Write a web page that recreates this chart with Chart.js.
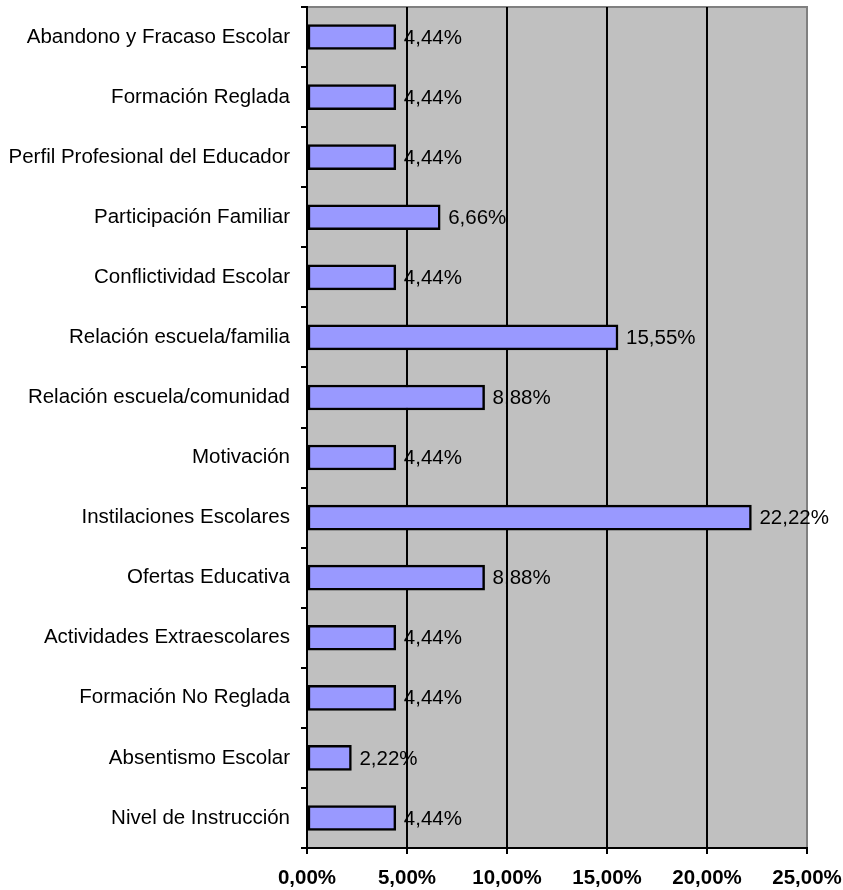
<!DOCTYPE html>
<html>
<head>
<meta charset="utf-8">
<script src="https://cdn.jsdelivr.net/npm/chart.js@4/dist/chart.umd.min.js"></script>
<style>
  html, body { margin: 0; padding: 0; background: #fff; }
  #wrap { width: 843px; height: 890px; }
</style>
</head>
<body>
<div id="wrap"><canvas id="chart"></canvas></div>
<script>
// Categories, top to bottom
const categories = [
    'Abandono y Fracaso Escolar',
    'Formación Reglada',
    'Perfil Profesional del Educador',
    'Participación Familiar',
    'Conflictividad Escolar',
    'Relación escuela/familia',
    'Relación escuela/comunidad',
    'Motivación',
    'Instilaciones Escolares',
    'Ofertas Educativa',
    'Actividades Extraescolares',
    'Formación No Reglada',
    'Absentismo Escolar',
    'Nivel de Instrucción'
];
const percentages = [4.44, 4.44, 4.44, 6.66, 4.44, 15.55, 8.88, 4.44, 22.22, 8.88, 4.44, 4.44, 2.22, 4.44];
const xTicks = [0, 5, 10, 15, 20, 25];

const fontFamily = "Arial, 'Liberation Sans', sans-serif";
const fontSize = 20.5;

function pct(v) {
    return v.toFixed(2).replace('.', ',') + '%';
}

// Gray plot area with a gray frame on top and right
const plotBackground = {
    id: 'plotBackground',
    beforeDraw(chart) {
        const { ctx, chartArea: a } = chart;
        ctx.save();
        ctx.fillStyle = '#C0C0C0';
        ctx.fillRect(a.left, a.top, a.right - a.left, a.bottom - a.top);
        ctx.strokeStyle = '#808080';
        ctx.lineWidth = 2;
        ctx.beginPath();
        ctx.moveTo(a.left, a.top);
        ctx.lineTo(a.right, a.top);
        ctx.lineTo(a.right, a.bottom);
        ctx.stroke();
        ctx.restore();
    }
};

// Value labels at the end of each bar
const barLabels = {
    id: 'barLabels',
    afterDatasetsDraw(chart) {
        const { ctx } = chart;
        const meta = chart.getDatasetMeta(0);
        ctx.save();
        ctx.font = fontSize + 'px ' + fontFamily;
        ctx.fillStyle = '#000';
        ctx.textAlign = 'left';
        ctx.textBaseline = 'middle';
        meta.data.forEach((bar, i) => {
            ctx.fillText(pct(percentages[i]), bar.x + 8, bar.y + 1);
        });
        ctx.restore();
    }
};

new Chart(document.getElementById('chart'), {
    type: 'bar',
    data: {
        labels: categories,
        datasets: [{
            data: percentages,
            backgroundColor: '#9999FF',
            borderColor: '#000',
            borderWidth: 2.5,
            borderSkipped: false,
            barThickness: 25
        }]
    },
    options: {
        indexAxis: 'y',
        responsive: true,
        maintainAspectRatio: false,
        animation: false,
        layout: { padding: { top: 7, right: 36, bottom: 0, left: 0 } },
        plugins: {
            legend: { display: false },
            tooltip: { enabled: false }
        },
        scales: {
            x: {
                min: 0,
                max: 25,
                afterBuildTicks: scale => {
                    scale.ticks = xTicks.map(v => ({ value: v }));
                },
                afterFit: scale => {
                    scale.height = 42;
                    scale.paddingLeft = 0;
                    scale.paddingRight = 0;
                },
                grid: {
                    color: c => (c.tick && c.tick.value === 25 ? '#808080' : '#000'),
                    tickColor: '#000',
                    lineWidth: 2,
                    tickLength: 6
                },
                border: { color: '#000', width: 2 },
                ticks: {
                    padding: 12,
                    color: '#000',
                    font: { family: fontFamily, size: fontSize, weight: 'bold' },
                    callback: v => pct(v)
                }
            },
            y: {
                afterFit: scale => {
                    scale.width = 307;
                    scale.paddingTop = 0;
                    scale.paddingBottom = 0;
                },
                grid: {
                    drawOnChartArea: false,
                    tickColor: '#000',
                    lineWidth: 2,
                    tickLength: 6,
                    offset: true
                },
                border: { color: '#000', width: 2 },
                ticks: {
                    padding: 11,
                    color: '#000',
                    font: { family: fontFamily, size: fontSize }
                }
            }
        }
    },
    plugins: [plotBackground, barLabels]
});
</script>
</body>
</html>
